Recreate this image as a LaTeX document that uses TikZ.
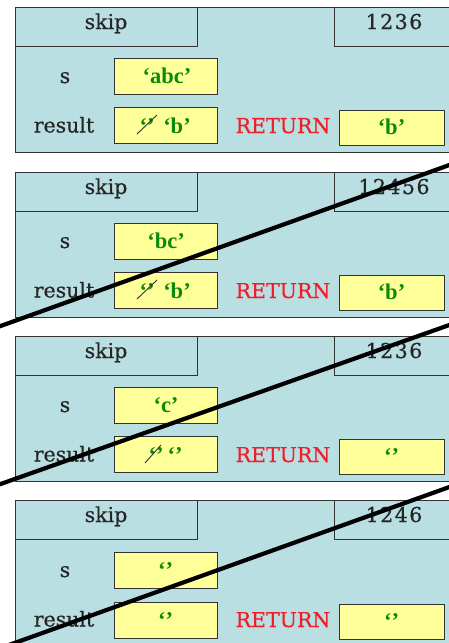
\documentclass[tikz,border=0pt]{standalone}
\usepackage{fontspec}
\usetikzlibrary{calc}
\setmainfont{DejaVu Serif}
\newfontfamily\lblfont[FakeBold=0.6]{DejaVu Serif}
\newfontfamily\valfont{Liberation Serif}
\definecolor{frameblue}{HTML}{BADFE3}
\definecolor{valyellow}{HTML}{FFFF99}
\definecolor{valgreen}{HTML}{0A8A0A}
\definecolor{retred}{HTML}{F01E28}
\definecolor{edgegray}{HTML}{333333}
\tikzset{
  framebox/.style={draw=edgegray, fill=frameblue, line width=0.9pt},
  valbox/.style={draw=edgegray, fill=valyellow, line width=1pt, minimum width=103pt, minimum height=36pt, inner sep=0pt},
  retbox/.style={valbox, minimum width=105pt, minimum height=35pt},
  lbl/.style={font=\lblfont\fontsize{20.5}{24}\selectfont, text=black!85, inner sep=0pt, anchor=base},
  val/.style={font=\valfont\bfseries\fontsize{22.5}{26}\selectfont, text=valgreen, inner sep=0pt, anchor=base},
  ret/.style={font=\lblfont\fontsize{20.5}{24}\selectfont, text=retred, inner sep=0pt, anchor=base},
  slash/.style={draw=black!80, line width=0.9pt},
  crossout/.style={line width=4.2pt},
}
\newcommand{\frameshape}{%
  \draw[framebox] (15,0) rectangle (452,145);
  \draw[framebox] (15,0) rectangle (197,39);
  \draw[framebox] (334,0) rectangle (452,39);
}
\begin{document}
\begin{tikzpicture}[x=1pt,y=-1pt]
\useasboundingbox (0,0) rectangle (449,643);
% ---------- frame 1
\begin{scope}[shift={(0,7)}]
\frameshape
\node[lbl] (h1) at (106,22) {skip};
\node[lbl] (n1) at (394,22) {1\kern1.5pt2\kern1.5pt3\kern1.5pt6};
\node[valbox] (s1) at (165.5,69.5) {};
\node[val] (sv1) at (167,76.5) {‘abc’};
\node[lbl] (sl1) at (65,76) {s};
\node[valbox] (r1) at (165.5,118.5) {};
\node[val] (ra1) at (147,126) {‘’};
\node[val] (rb1) at (177,126) {‘b’};
\draw[slash] ($(ra1.base)+(-10,1)$) -- ($(ra1.base)+(10,-18)$);
\node[lbl] (rl1) at (64,125.5) {result};
\node[ret] (rt1) at (283,126) {RETURN};
\node[retbox] (v1) at (391.5,120.5) {};
\node[val] (vv1) at (391.5,127) {‘b’};
\end{scope}
% ---------- frame 2
\begin{scope}[shift={(0,172)}]
\frameshape
\node[lbl] (h2) at (106,22) {skip};
\node[lbl] (n2) at (394,22) {1\kern1.5pt2\kern1.5pt4\kern1.5pt5\kern1.5pt6};
\node[valbox] (s2) at (165.5,69.5) {};
\node[val] (sv2) at (166,76.5) {‘bc’};
\node[lbl] (sl2) at (65,76) {s};
\node[valbox] (r2) at (165.5,118.5) {};
\node[val] (ra2) at (147,126) {‘’};
\node[val] (rb2) at (177,126) {‘b’};
\draw[slash] ($(ra2.base)+(-10,1)$) -- ($(ra2.base)+(10,-18)$);
\node[lbl] (rl2) at (64,125.5) {result};
\node[ret] (rt2) at (283,126) {RETURN};
\node[retbox] (v2) at (391.5,120.5) {};
\node[val] (vv2) at (391.5,127) {‘b’};
\end{scope}
% ---------- frame 3
\begin{scope}[shift={(0,336)}]
\frameshape
\node[lbl] (h3) at (106,22) {skip};
\node[lbl] (n3) at (394,22) {1\kern1.5pt2\kern1.5pt3\kern1.5pt6};
\node[valbox] (s3) at (165.5,69.5) {};
\node[val] (sv3) at (166,76.5) {‘c’};
\node[lbl] (sl3) at (65,76) {s};
\node[valbox] (r3) at (165.5,118.5) {};
\node[val] (ra3) at (156,126) {‘’};
\node[val] (rb3) at (175,126) {‘’};
\draw[slash] ($(ra3.base)+(-11,1)$) -- ($(ra3.base)+(5,-17)$);
\node[lbl] (rl3) at (64,125.5) {result};
\node[ret] (rt3) at (283,126) {RETURN};
\node[retbox] (v3) at (391.5,120.5) {};
\node[val] (vv3) at (391.5,127) {‘’};
\end{scope}
% ---------- frame 4
\begin{scope}[shift={(0,500)}]
\frameshape
\node[lbl] (h4) at (106,22) {skip};
\node[lbl] (n4) at (394,22) {1\kern1.5pt2\kern1.5pt4\kern1.5pt6};
\node[valbox] (s4) at (165.5,70.5) {};
\node[val] (sv4) at (165.5,77.5) {‘’};
\node[lbl] (sl4) at (65,77) {s};
\node[valbox] (r4) at (165.5,120) {};
\node[val] (ra4) at (165.5,127) {‘’};
\node[lbl] (rl4) at (64,126.5) {result};
\node[ret] (rt4) at (283,127) {RETURN};
\node[retbox] (v4) at (391.5,121.5) {};
\node[val] (vv4) at (391.5,128) {‘’};
\end{scope}
% ---------- cross-out strokes
\coordinate (xa1) at (-5,328);
\coordinate (xa2) at (455,163);
\coordinate (xb1) at (-5,486);
\coordinate (xb2) at (455,323);
\coordinate (xc1) at (-5,650);
\coordinate (xc2) at (455,485);
\draw[crossout] (xa1) -- (xa2);
\draw[crossout] (xb1) -- (xb2);
\draw[crossout] (xc1) -- (xc2);
\end{tikzpicture}
\end{document}
